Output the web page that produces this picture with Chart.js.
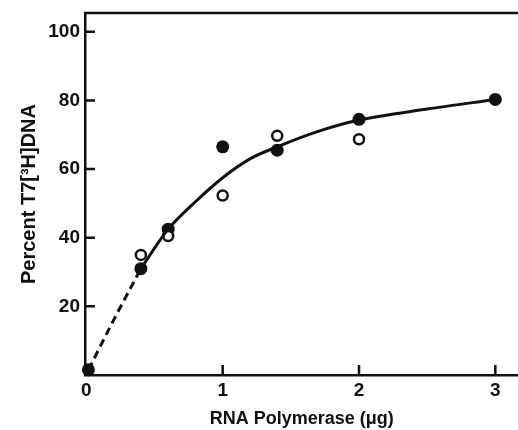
<!DOCTYPE html>
<html>
<head>
<meta charset="utf-8">
<script src="https://cdn.jsdelivr.net/npm/chart.js@4/dist/chart.umd.min.js"></script>
<style>
  html, body { margin: 0; padding: 0; background: #fff; overflow: hidden; }
  /* a bit wider than the window: Chart.js keeps ~7.5px on the right for the markers */
  #wrap { width: 526px; height: 430px; }
</style>
</head>
<body>
<div id="wrap"><canvas id="chart"></canvas></div>
<script>
// data
const filledX = [0.015, 0.4, 0.6, 1.0, 1.4, 2.0, 3.0];
const filledY = [1.5, 31, 42.5, 66.5, 65.5, 74.5, 80.3];
const openX = [0.4, 0.6, 1.0, 1.4, 2.0];
const openY = [35, 40.5, 52.3, 69.7, 68.7];
// fitted curve: dashed part near origin, solid from 0.4 on
const dashX = [0.015, 0.2, 0.4];
const dashY = [1.5, 16, 31];
const curveX = [0.4, 0.6, 0.8, 1.0, 1.2, 1.4, 1.7, 2.0, 2.5, 3.0];
const curveY = [31, 42.5, 50.5, 57.5, 63, 66.5, 71, 74.3, 77.5, 80.3];
const xTicks = [0, 1, 2, 3];
const yTicks = [20, 40, 60, 80, 100];

const pts = (xs, ys) => xs.map((x, i) => ({x: x, y: ys[i]}));
const INK = '#111';
const FONT = 'Liberation Sans';

// tick marks point inward, plus the top frame line
const frame = {
    id: 'frame',
    afterDraw(chart) {
        const {ctx, chartArea, scales} = chart;
        ctx.save();
        ctx.strokeStyle = INK;
        ctx.lineWidth = 2.5;
        ctx.beginPath();
        ctx.moveTo(chartArea.left - 1, chartArea.top);
        ctx.lineTo(chartArea.right, chartArea.top);
        yTicks.forEach(v => {
            const y = scales.y.getPixelForValue(v);
            ctx.moveTo(chartArea.left, y);
            ctx.lineTo(chartArea.left + 10, y);
        });
        xTicks.forEach(v => {
            if (v === 0) return;
            const x = scales.x.getPixelForValue(v);
            ctx.moveTo(x, chartArea.bottom);
            ctx.lineTo(x, chartArea.bottom - 10);
        });
        ctx.stroke();
        ctx.restore();
    }
};

new Chart(document.getElementById('chart'), {
    type: 'scatter',
    data: {
        datasets: [
            {
                data: pts(dashX, dashY),
                showLine: true,
                borderColor: INK,
                borderWidth: 3,
                borderDash: [8, 5],
                pointRadius: 0,
                cubicInterpolationMode: 'monotone',
                clip: false
            },
            {
                data: pts(curveX, curveY),
                showLine: true,
                borderColor: INK,
                borderWidth: 3,
                pointRadius: 0,
                cubicInterpolationMode: 'monotone',
                clip: false
            },
            {
                data: pts(openX, openY),
                pointRadius: 5,
                pointBackgroundColor: '#fff',
                pointBorderColor: INK,
                pointBorderWidth: 2.5,
                clip: false
            },
            {
                data: pts(filledX, filledY),
                pointRadius: 6.5,
                pointBackgroundColor: INK,
                pointBorderColor: INK,
                pointBorderWidth: 0,
                clip: false
            }
        ]
    },
    options: {
        responsive: true,
        maintainAspectRatio: false,
        animation: false,
        layout: { padding: { top: 13, right: 0, left: 0, bottom: 0 } },
        plugins: {
            legend: { display: false },
            tooltip: { enabled: false }
        },
        scales: {
            x: {
                type: 'linear',
                min: -0.01,
                max: 3.17,
                afterFit: s => { s.height = 55; s.paddingRight = 0; s.paddingLeft = 0; },
                afterBuildTicks: s => { s.ticks = xTicks.map(v => ({value: v})); },
                grid: { display: false, drawTicks: false },
                border: { display: true, color: INK, width: 2.5 },
                ticks: {
                    color: INK,
                    padding: 4,
                    font: { family: FONT, size: 19, weight: 'bold' }
                },
                title: {
                    display: true,
                    text: 'RNA Polymerase (\u03bcg)',
                    color: INK,
                    padding: 0,
                    font: { family: FONT, size: 18, weight: 'bold' }
                }
            },
            y: {
                type: 'linear',
                min: 0,
                max: 105.5,
                afterFit: s => { s.width = 85; s.paddingTop = 0; s.paddingBottom = 0; },
                afterBuildTicks: s => { s.ticks = yTicks.map(v => ({value: v})); },
                grid: { display: false, drawTicks: false },
                border: { display: true, color: INK, width: 2.5 },
                ticks: {
                    color: INK,
                    padding: 5,
                    font: { family: FONT, size: 19, weight: 'bold' }
                },
                title: {
                    display: true,
                    text: 'Percent T7[\u00b3H]DNA',
                    color: INK,
                    padding: { top: 17, bottom: 0 },
                    font: { family: FONT, size: 20, weight: 'bold' }
                }
            }
        }
    },
    plugins: [frame]
});
</script>
</body>
</html>
